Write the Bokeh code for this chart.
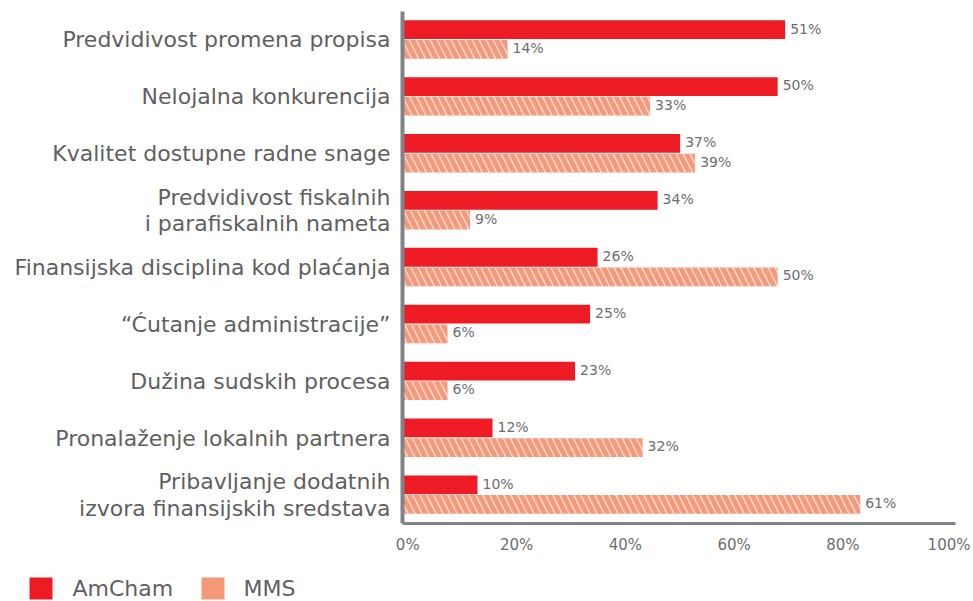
from bokeh.plotting import figure
from bokeh.layouts import column
from bokeh.models import ColumnDataSource, FactorRange, Range1d, FixedTicker
from bokeh.transform import dodge
from bokeh.core.properties import value
from bokeh.embed import file_html
from bokeh.resources import INLINE

categories = [
    "Predvidivost promena propisa",
    "Nelojalna konkurencija",
    "Kvalitet dostupne radne snage",
    "Predvidivost fiskalnih\ni parafiskalnih nameta",
    "Finansijska disciplina kod plaćanja",
    "\u201cĆutanje administracije\u201d",
    "Dužina sudskih procesa",
    "Pronalaženje lokalnih partnera",
    "Pribavljanje dodatnih\nizvora finansijskih sredstava",
]
amcham = [51, 50, 37, 34, 26, 25, 23, 12, 10]
mms = [14, 33, 39, 9, 50, 6, 6, 32, 61]
tick_labels = ["0%", "20%", "40%", "60%", "80%", "100%"]
series_names = ["AmCham", "MMS"]

RED = "#ED1C24"
SALMON = "#F5997B"
GRAY_TXT = "#5F6062"
VAL_GRAY = "#6D6E71"
AXIS_GRAY = "#808285"
FONT = "DejaVu Sans"

# the printed axis is compressed relative to the bar values in the original
AXIS_SCALE = 72.5 / 100.0
AXIS_OFFSET = 0.7

src = ColumnDataSource(dict(
    cat=categories,
    amcham=amcham,
    mms=mms,
    amcham_lbl=[f"{v}%" for v in amcham],
    mms_lbl=[f"{v}%" for v in mms],
))

W = 970
p = figure(
    width=W, height=560,
    y_range=FactorRange(factors=list(reversed(categories)), range_padding=0),
    x_range=Range1d(0, 73.7),
    output_backend="svg", toolbar_location=None,
    min_border_left=402, min_border_right=15, min_border_top=11, min_border_bottom=37,
)
p.frame_align = False
p.outline_line_color = None
p.grid.grid_line_color = None

p.hbar(y=dodge("cat", 0.18, range=p.y_range), right="amcham", height=0.33, left=0,
       source=src, fill_color=RED, line_color=None)
p.hbar(y=dodge("cat", -0.165, range=p.y_range), right="mms", height=0.33, left=0,
       source=src, fill_color=SALMON, line_color=None,
       hatch_pattern="left_diagonal_line", hatch_color="white", hatch_alpha=0.6,
       hatch_scale=14, hatch_weight=1.6)

p.text(x="amcham", y=dodge("cat", 0.2, range=p.y_range), text="amcham_lbl", source=src,
       x_offset=5, text_baseline="middle", text_align="left",
       text_font=value(FONT), text_font_size="14px", text_color=VAL_GRAY)
p.text(x="mms", y=dodge("cat", -0.14, range=p.y_range), text="mms_lbl", source=src,
       x_offset=5, text_baseline="middle", text_align="left",
       text_font=value(FONT), text_font_size="14px", text_color=VAL_GRAY)

# axes
ticks = [AXIS_OFFSET + i * 20 * AXIS_SCALE for i in range(len(tick_labels))]
p.xaxis.ticker = FixedTicker(ticks=ticks)
p.xaxis.major_label_overrides = {t: l for t, l in zip(ticks, tick_labels)}
p.xaxis.axis_line_color = AXIS_GRAY
p.xaxis.axis_line_width = 3
p.xaxis.major_tick_line_color = None
p.xaxis.minor_tick_line_color = None
p.xaxis.major_label_standoff = 6
p.xaxis.major_label_text_font = FONT
p.xaxis.major_label_text_font_size = "15px"
p.xaxis.major_label_text_color = VAL_GRAY

p.yaxis.axis_line_color = AXIS_GRAY
p.yaxis.axis_line_width = 4
p.yaxis.major_tick_line_color = None
p.yaxis.minor_tick_line_color = None
p.yaxis.major_label_standoff = 6
p.yaxis.major_label_text_font = FONT
p.yaxis.major_label_text_font_size = "22px"
p.yaxis.major_label_text_color = GRAY_TXT
p.yaxis.major_label_text_line_height = 1.05

# legend strip below the chart (pixel coordinates), solid swatches
LW, LH = W, 40
lf = figure(width=LW, height=LH, output_backend="svg", toolbar_location=None,
            min_border=0, x_range=Range1d(0, LW), y_range=Range1d(0, LH))
lf.frame_align = False
lf.axis.visible = False
lf.grid.grid_line_color = None
lf.outline_line_color = None
leg = ColumnDataSource(dict(
    sx=[40.5, 212.5], tx=[72, 243], y=[12, 12],
    color=[RED, SALMON], label=series_names,
))
lf.rect(x="sx", y="y", width=23, height=22, source=leg, fill_color="color", line_color=None)
lf.text(x="tx", y="y", text="label", source=leg, text_baseline="middle", text_align="left",
        text_font=value(FONT), text_font_size="22px", text_color=GRAY_TXT)

layout = column(p, lf, spacing=0)
open("out.html", "w").write(file_html(layout, INLINE))
